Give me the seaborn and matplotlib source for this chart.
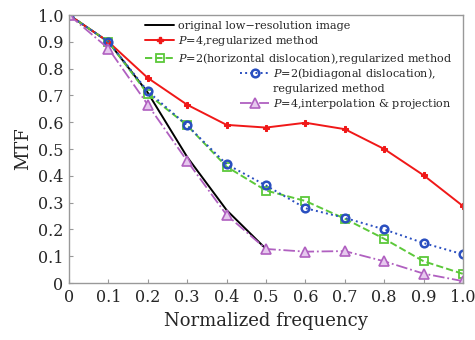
import numpy as np
import pandas as pd
import matplotlib
matplotlib.use("Agg")
import matplotlib.pyplot as plt
import seaborn as sns
from matplotlib.lines import Line2D

# values
freq = [0.0, 0.1, 0.2, 0.3, 0.4, 0.5, 0.6, 0.7, 0.8, 0.9, 1.0]
original = [1.0, 0.90, 0.71, 0.47, 0.272, 0.127]
p4_reg = [1.0, 0.90, 0.765, 0.665, 0.59, 0.58, 0.598, 0.574, 0.5, 0.402, 0.287]
p2_horiz = [1.0, 0.90, 0.705, 0.588, 0.434, 0.345, 0.306, 0.24, 0.165, 0.081, 0.034]
p2_bidiag = [1.0, 0.90, 0.715, 0.588, 0.443, 0.364, 0.279, 0.243, 0.2, 0.149, 0.107]
p4_interp = [1.0, 0.875, 0.665, 0.455, 0.254, 0.127, 0.117, 0.119, 0.081, 0.035, 0.007]

tick_vals = [0.0, 0.1, 0.2, 0.3, 0.4, 0.5, 0.6, 0.7, 0.8, 0.9, 1.0]
tick_labels = ["0", "0.1", "0.2", "0.3", "0.4", "0.5", "0.6", "0.7", "0.8", "0.9", "1.0"]

sns.set_style("ticks")
plt.rcParams["font.family"] = ["DejaVu Serif"]
plt.rcParams["mathtext.fontset"] = "dejavuserif"

fig = plt.figure(figsize=(4.75, 3.4), dpi=100)
ax = fig.add_axes([69 / 475, 1 - 283 / 340, (463 - 69) / 475, (283 - 15) / 340])

sns.lineplot(x=freq[:len(original)], y=original, ax=ax, color="black", lw=1.4)
sns.lineplot(x=freq, y=p4_reg, ax=ax, color="#f01818", lw=1.4, marker="P", ms=5, mec="#f01818")
sns.lineplot(x=freq, y=p2_horiz, ax=ax, color="#5cc83a", lw=1.4, linestyle="--",
             marker="s", ms=5.5, mfc="none", mec="#5cc83a", mew=1.3)
sns.lineplot(x=freq, y=p2_bidiag, ax=ax, color="#2a4fc0", lw=1.4, linestyle=":",
             marker="o", ms=5.5, mfc="none", mec="#2a4fc0", mew=1.8)
sns.lineplot(x=freq, y=p4_interp, ax=ax, color="#b060c0", lw=1.3, linestyle="-.",
             marker="^", ms=6.5, mfc="#e6c8ee", mec="#b060c0", mew=1.2)

ax.set_xlim(0, 1.0)
ax.set_ylim(0, 1.0)
ax.set_xticks(tick_vals)
ax.set_xticklabels(tick_labels)
ax.set_yticks(tick_vals)
ax.set_yticklabels(tick_labels)
ax.tick_params(direction="in", length=3, color="#999999", labelsize=11.5, pad=4)
for s in ax.spines.values():
    s.set_color("#999999")
    s.set_linewidth(1.0)
ax.set_xlabel("Normalized frequency", fontsize=13, labelpad=5)
ax.set_ylabel("MTF", fontsize=13, labelpad=4)

h1 = [Line2D([], [], color="black", lw=1.4),
      Line2D([], [], color="#f01818", lw=1.4, marker="P", ms=5),
      Line2D([], [], color="#5cc83a", lw=1.4, ls="--", marker="s", ms=5.5, mfc="none", mew=1.3)]
l1 = ["original low\u2212resolution image",
      "$P$=4,regularized method",
      "$P$=2(horizontal dislocation),regularized method"]
h2 = [Line2D([], [], color="#2a4fc0", lw=1.4, ls=":", marker="o", ms=5.5, mfc="none", mew=1.8),
      Line2D([], [], color="none"),
      Line2D([], [], color="#b060c0", lw=1.3, ls="-.", marker="^", ms=6.5, mfc="#e6c8ee", mew=1.2)]
l2 = ["$P$=2(bidiagonal dislocation),",
      "regularized method",
      "$P$=4,interpolation & projection"]

kw = dict(frameon=False, fontsize=8.1, borderpad=0, borderaxespad=0,
          handlelength=2.6, handletextpad=0.35, labelspacing=0.25,
          bbox_transform=fig.transFigure, loc="upper left")
leg1 = ax.legend(h1, l1, bbox_to_anchor=(145 / 475, 1 - 21 / 340), **kw)
ax.add_artist(leg1)
ax.legend(h2, l2, bbox_to_anchor=(240 / 475, 1 - 66 / 340), **kw)

fig.savefig("out.png", dpi=100)
